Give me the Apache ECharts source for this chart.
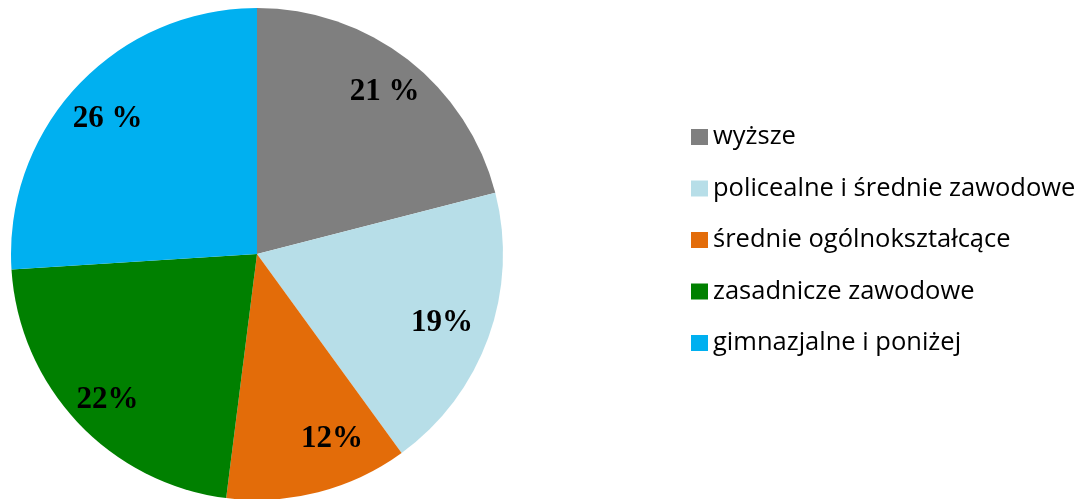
<!DOCTYPE html>
<html>
<head>
<meta charset="utf-8">
<script src="https://cdn.jsdelivr.net/npm/echarts@6/dist/echarts.min.js"></script>
<style>
  html, body { margin: 0; padding: 0; background: #fff; }
  #chart { width: 1087px; height: 499px; }
</style>
</head>
<body>
<div id="chart"></div>
<script>
// kategorie wykształcenia
const categories = ['wyższe', 'policealne i średnie zawodowe', 'średnie ogólnokształcące', 'zasadnicze zawodowe', 'gimnazjalne i poniżej'];
const values = [21, 19, 12, 22, 26];
const labels = ['21 %', '19%', '12%', '22%', '26 %'];
const colors = ['#7f7f7f', '#b7dee8', '#e36c09', '#008000', '#00b0f0'];
// drobne przesunięcia etykiet: poziomo (padding) i pionowo (pusta linia)
const labelPads = [[0, 0, 0, 4], [0, 16, 0, 0], [0, 0, 0, 48], [0, 0, 0, 0], [0, 0, 0, 0]];
const labelShiftY = [0, 0, -14, 6, 5];

const pieData = categories.map((name, i) => ({
  name: name,
  value: values[i],
  itemStyle: {color: colors[i]}
}));

function labelText(i) {
  const s = labelShiftY[i];
  if (s < 0) return labels[i] + '\n{s' + (-2 * s) + '| }';
  if (s > 0) return '{s' + (2 * s) + '| }\n' + labels[i];
  return labels[i];
}

const rich = {};
[10, 12, 28].forEach(h => { rich['s' + h] = {height: h, fontSize: 1, lineHeight: h}; });

// druga seria tylko dla etykiet (przezroczysta), żeby ustawić je bliżej krawędzi
const labelData = categories.map((name, i) => ({
  name: name,
  value: values[i],
  label: {formatter: labelText(i), padding: labelPads[i]}
}));

let myChart = echarts.init(document.getElementById('chart'));
myChart.setOption({
  backgroundColor: '#ffffff',
  animation: false,
  legend: {
    orient: 'vertical',
    left: 686,
    top: 119,
    itemWidth: 17,
    itemHeight: 16,
    itemGap: 25.5,
    icon: 'rect',
    data: categories,
    selectedMode: false,
    textStyle: {
      fontFamily: 'Open Sans',
      fontSize: 25.5,
      lineHeight: 26,
      color: '#000'
    }
  },
  series: [
    {
      type: 'pie',
      center: [257, 254],
      radius: [0, 246],
      startAngle: 90,
      clockwise: true,
      silent: true,
      label: {show: false},
      labelLine: {show: false},
      data: pieData
    },
    {
      type: 'pie',
      center: [257, 254],
      radius: [158, 246],
      startAngle: 90,
      clockwise: true,
      silent: true,
      itemStyle: {color: 'rgba(0,0,0,0)'},
      label: {
        show: true,
        position: 'inside',
        fontFamily: 'Liberation Serif',
        fontWeight: 'bold',
        fontSize: 31,
        lineHeight: 34,
        color: '#000',
        rich: rich
      },
      labelLine: {show: false},
      data: labelData
    }
  ]
});
</script>
</body>
</html>
